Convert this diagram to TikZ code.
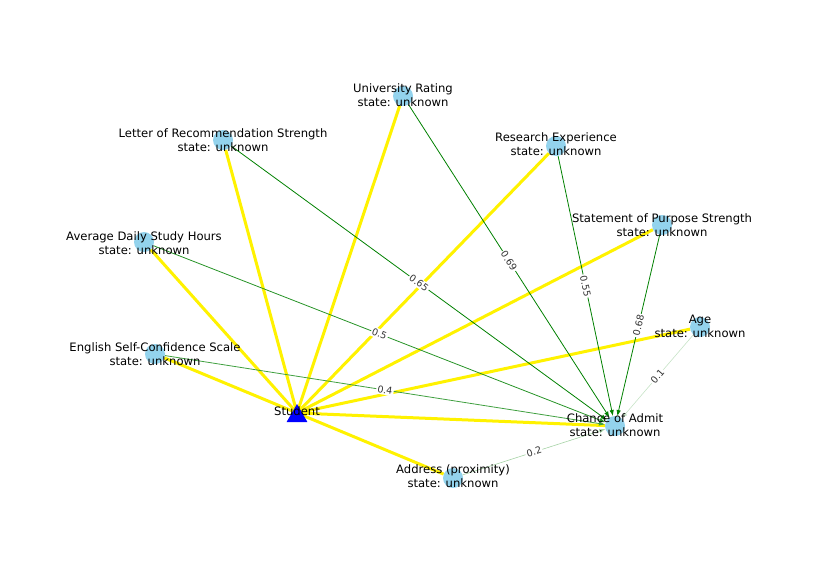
\documentclass[tikz,border=0pt]{standalone}
\usepackage{fontspec}
\setmainfont{DejaVu Sans}
\usepackage{xcolor}
\usepackage{tikz}
\usetikzlibrary{arrows.meta,shapes.geometric,backgrounds}

\definecolor{attrblue}{RGB}{147,211,237}
\definecolor{infgreen}{RGB}{0,128,0}

\begin{document}
\begin{tikzpicture}[x=1pt, y=-1pt,
  attr/.style={circle, fill=attrblue, minimum size=20pt, inner sep=0pt},
  caption/.style={align=center, inner sep=0pt, font=\fontsize{11.6}{14}\selectfont},
  link/.style={yellow, line width=3pt},
  infl/.style={-{Latex[length=6pt,width=4.5pt]}, infgreen, line width=0.8pt},
  wlabel/.style={sloped, fill=white, inner sep=1.2pt, text=black!80,
    font=\fontsize{9.5}{10}\selectfont}]
\useasboundingbox (0,0) rectangle (840,560);

% Attribute nodes
\node[attr] (uni) at (403,96) {};
\node[attr] (lor) at (223,140) {};
\node[attr] (res) at (556,146) {};
\node[attr] (sop) at (662,225) {};
\node[attr] (study) at (144,242) {};
\node[attr] (age) at (700,327) {};
\node[attr] (eng) at (155,354) {};
\node[attr] (chance) at (615,426) {};
\node[attr] (addr) at (453,478) {};

% Student
\coordinate (stu) at (297,413);
\node[regular polygon, regular polygon sides=3, fill=blue, minimum size=24pt,
  inner sep=0pt] (student) at (297,416) {};

\begin{scope}[on background layer]
% Student links
\foreach \n in {uni,lor,res,sop,study,age,eng,chance,addr}
  \draw[link] (stu) -- (\n);

% Influence edges into the outcome
\draw[infl] (uni) -- node[wlabel] {0.69} (chance);
\draw[infl] (lor) -- node[wlabel] {0.65} (chance);
\draw[infl] (res) -- node[wlabel] {0.55} (chance);
\draw[infl] (sop) -- node[wlabel] {0.68} (chance);
\draw[infl, draw=infgreen!85] (study) -- node[wlabel] {0.5} (chance);
\draw[infl, draw=infgreen!75] (eng) -- node[wlabel] {0.4} (chance);
\draw[infl, draw=infgreen!22, line width=0.6pt] (age) -- node[wlabel] {0.1} (chance);
\draw[infl, draw=infgreen!35, line width=0.6pt] (addr) -- node[wlabel] {0.2} (chance);
\end{scope}

% Labels
\node[caption] (uni-t) at (403,95) {University Rating\\state: unknown};
\node[caption] (lor-t) at (223,140) {Letter of Recommendation Strength\\state: unknown};
\node[caption] (res-t) at (556,144) {Research Experience\\state: unknown};
\node[caption] (sop-t) at (662,225) {Statement of Purpose Strength\\state: unknown};
\node[caption] (study-t) at (144,243) {Average Daily Study Hours\\state: unknown};
\node[caption] (age-t) at (700,326) {Age\\state: unknown};
\node[caption] (eng-t) at (155,354) {English Self-Confidence Scale\\state: unknown};
\node[caption] (chance-t) at (615,425) {Chance of Admit\\state: unknown};
\node[caption] (addr-t) at (453,476) {Address (proximity)\\state: unknown};
\node[caption] (student-t) at (297,411) {Student};
\end{tikzpicture}
\end{document}
